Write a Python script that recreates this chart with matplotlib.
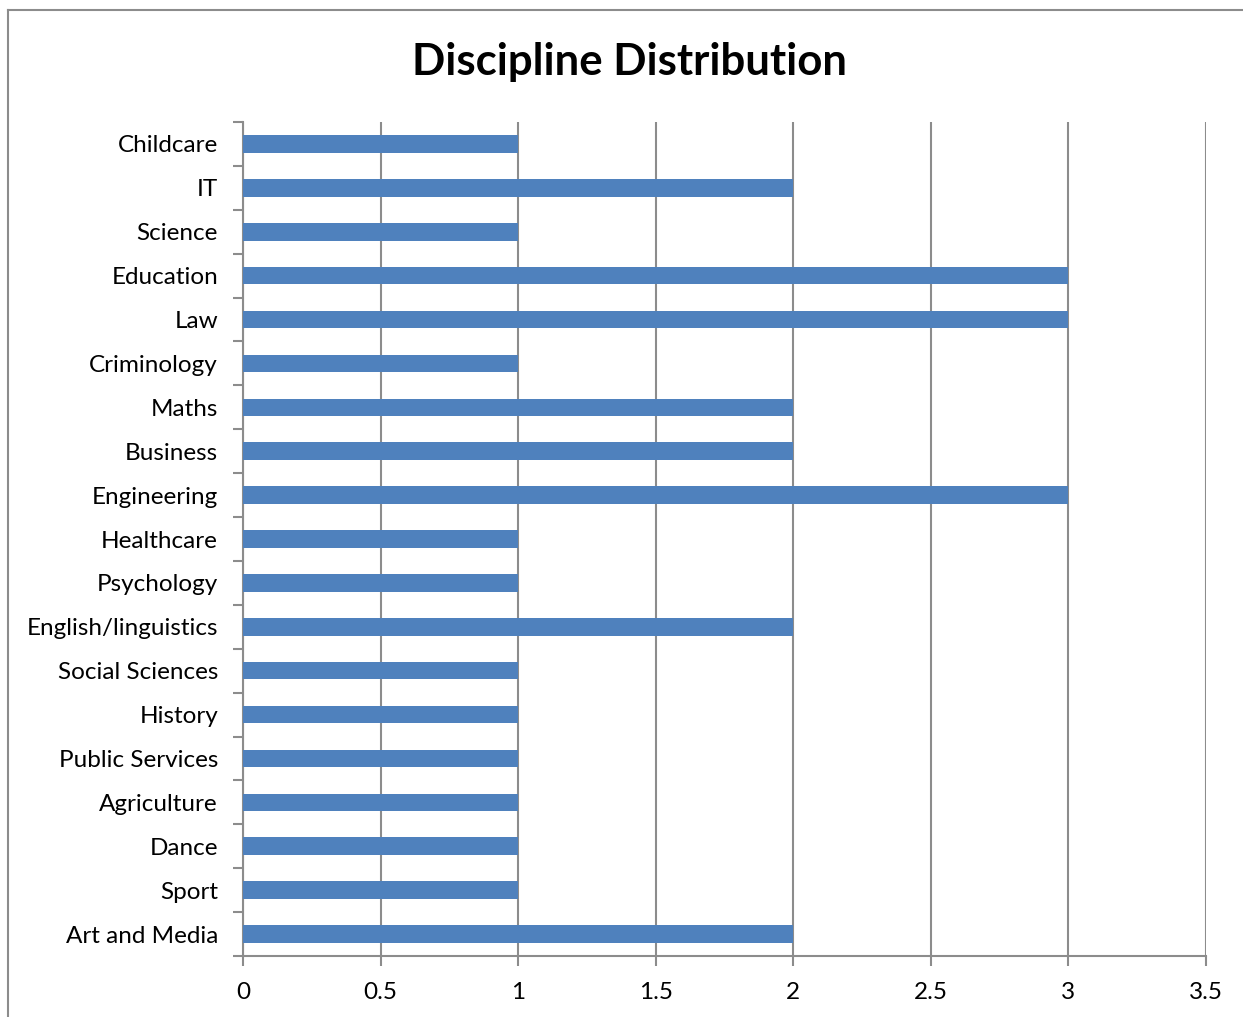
import matplotlib.pyplot as plt
from matplotlib.lines import Line2D

# -------------------------------------------------
# Data (top to bottom as shown)
# -------------------------------------------------
disciplines = [
    "Childcare", "IT", "Science", "Education", "Law", "Criminology",
    "Maths", "Business", "Engineering", "Healthcare", "Psychology",
    "English/linguistics", "Social Sciences", "History", "Public Services",
    "Agriculture", "Dance", "Sport", "Art and Media",
]
counts = [1, 2, 1, 3, 3, 1, 2, 2, 3, 1, 1, 2, 1, 1, 1, 1, 1, 1, 2]
x_ticks = [0, 0.5, 1, 1.5, 2, 2.5, 3, 3.5]

plt.rcParams["font.family"] = ["Lato", "DejaVu Sans"]

W, H = 1243, 1017
fig = plt.figure(figsize=(W / 100, H / 100), dpi=100)
ax = fig.add_axes([243 / W, 61 / H, (1206 - 243) / W, (956 - 122) / H])

grey = "#8c8c8c"
n = len(disciplines)
ypos = list(range(n - 1, -1, -1))

ax.barh(ypos, counts, height=0.4, color="#4f81bd", zorder=3)

ax.set_xlim(0, 3.5)
ax.set_ylim(-0.5, n - 0.5)
ax.set_xticks(x_ticks)
ax.set_xticklabels([f"{t:g}" for t in x_ticks], fontsize=17.5)
ax.set_yticks(ypos)
ax.set_yticklabels(disciplines, fontsize=17.5)
ax.tick_params(axis="y", length=0, pad=18)
ax.tick_params(axis="x", length=7, width=1.5, color=grey, pad=12)

# category boundary ticks
ax.set_yticks([i - 0.5 for i in range(n + 1)], minor=True)
ax.tick_params(axis="y", which="minor", length=7, width=1.5, color=grey)

ax.grid(axis="x", color=grey, linewidth=1.5, zorder=0)

for side in ["top", "right"]:
    ax.spines[side].set_visible(False)
for side in ["left", "bottom"]:
    ax.spines[side].set_color(grey)
    ax.spines[side].set_linewidth(1.5)

fig.text(630 / W, 1 - 62 / H, "Discipline Distribution", ha="center", va="center",
         fontsize=31.5, fontweight="bold")

# chart frame (left and top edges visible)
fig.add_artist(Line2D([8 / W, 8 / W], [0, 1 - 10 / H], color=grey, lw=1.5))
fig.add_artist(Line2D([8 / W, 1], [1 - 10 / H, 1 - 10 / H], color=grey, lw=1.5))

fig.savefig("out.png", dpi=100, facecolor="white")
